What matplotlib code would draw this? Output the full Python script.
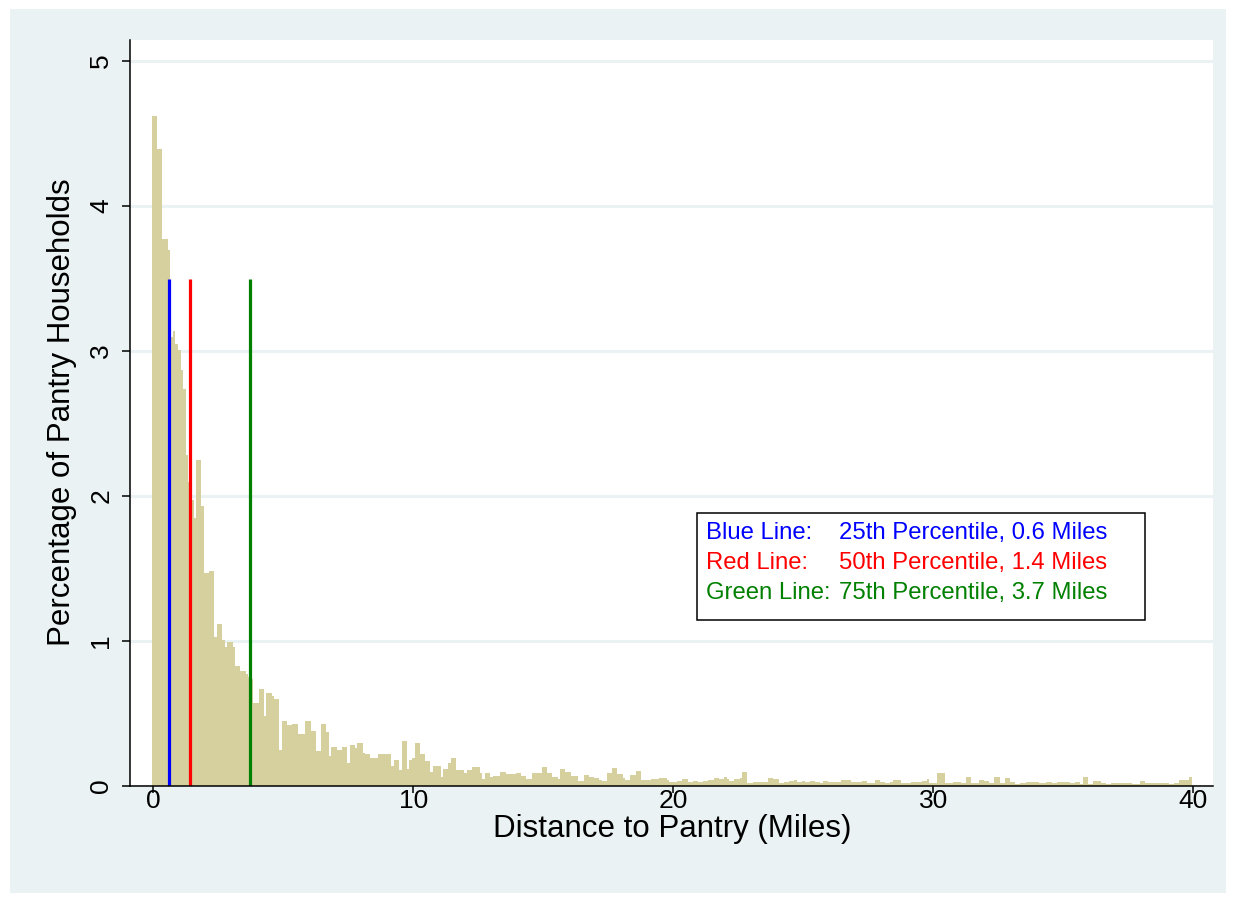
import numpy as np
import matplotlib.pyplot as plt
from matplotlib.patches import Rectangle

plt.rcParams['font.family'] = ['Liberation Sans', 'DejaVu Sans']

# bar centres, one every 0.1 mile
distance = np.round(np.arange(400) * 0.1, 1)

# percentage of households in each 0.1 mile bin
pct = np.array([
    4.62, 4.62, 4.39, 4.39, 3.77, 3.77, 3.70, 3.10, 3.14, 3.05,
    3.01, 2.87, 2.74, 2.28, 2.10, 1.97, 1.85, 2.25, 2.25, 1.93,
    1.47, 1.47, 1.48, 1.48, 1.03, 1.12, 1.12, 1.01, 0.96, 0.99,
    0.99, 0.96, 0.83, 0.83, 0.79, 0.79, 0.77, 0.75, 0.74, 0.57,
    0.57, 0.67, 0.67, 0.48, 0.64, 0.64, 0.62, 0.60, 0.60, 0.25,
    0.45, 0.45, 0.42, 0.42, 0.43, 0.43, 0.36, 0.36, 0.36, 0.45,
    0.45, 0.38, 0.38, 0.24, 0.24, 0.43, 0.43, 0.37, 0.21, 0.27,
    0.27, 0.25, 0.25, 0.27, 0.27, 0.16, 0.28, 0.28, 0.26, 0.30,
    0.30, 0.23, 0.22, 0.22, 0.19, 0.19, 0.19, 0.22, 0.22, 0.22,
    0.22, 0.22, 0.14, 0.18, 0.18, 0.11, 0.31, 0.31, 0.12, 0.18,
    0.19, 0.30, 0.30, 0.22, 0.22, 0.17, 0.17, 0.10, 0.14, 0.14,
    0.14, 0.06, 0.12, 0.12, 0.16, 0.19, 0.19, 0.11, 0.11, 0.11,
    0.09, 0.11, 0.11, 0.13, 0.13, 0.13, 0.09, 0.05, 0.09, 0.09,
    0.06, 0.07, 0.07, 0.07, 0.10, 0.10, 0.08, 0.08, 0.08, 0.08,
    0.09, 0.09, 0.07, 0.07, 0.05, 0.05, 0.09, 0.09, 0.09, 0.09,
    0.13, 0.13, 0.09, 0.09, 0.06, 0.06, 0.05, 0.12, 0.12, 0.10,
    0.10, 0.07, 0.07, 0.07, 0.035, 0.035, 0.076, 0.076, 0.06, 0.06,
    0.053, 0.053, 0.041, 0.034, 0.034, 0.087, 0.087, 0.122, 0.122, 0.083,
    0.083, 0.053, 0.041, 0.041, 0.076, 0.076, 0.103, 0.103, 0.041, 0.041,
    0.041, 0.041, 0.046, 0.046, 0.046, 0.057, 0.057, 0.057, 0.039, 0.030,
    0.030, 0.030, 0.034, 0.034, 0.046, 0.046, 0.030, 0.030, 0.034, 0.034,
    0.025, 0.025, 0.037, 0.037, 0.041, 0.041, 0.053, 0.053, 0.048, 0.048,
    0.060, 0.048, 0.034, 0.034, 0.046, 0.046, 0.053, 0.094, 0.094, 0.018,
    0.018, 0.030, 0.030, 0.025, 0.025, 0.030, 0.030, 0.053, 0.053, 0.046,
    0.046, 0.023, 0.023, 0.025, 0.025, 0.037, 0.037, 0.041, 0.025, 0.025,
    0.034, 0.030, 0.030, 0.034, 0.034, 0.025, 0.025, 0.018, 0.034, 0.034,
    0.025, 0.025, 0.025, 0.030, 0.030, 0.044, 0.044, 0.041, 0.041, 0.025,
    0.025, 0.030, 0.030, 0.034, 0.034, 0.023, 0.023, 0.018, 0.039, 0.039,
    0.025, 0.025, 0.018, 0.018, 0.030, 0.041, 0.041, 0.041, 0.023, 0.023,
    0.018, 0.018, 0.030, 0.030, 0.030, 0.030, 0.034, 0.034, 0.046, 0.018,
    0.018, 0.018, 0.092, 0.092, 0.092, 0.021, 0.021, 0.021, 0.030, 0.030,
    0.030, 0.023, 0.023, 0.060, 0.060, 0.023, 0.023, 0.023, 0.041, 0.041,
    0.034, 0.034, 0.018, 0.018, 0.064, 0.064, 0.018, 0.018, 0.057, 0.057,
    0.025, 0.025, 0.014, 0.014, 0.018, 0.018, 0.025, 0.025, 0.025, 0.025,
    0.025, 0.018, 0.018, 0.018, 0.025, 0.025, 0.018, 0.018, 0.025, 0.025,
    0.025, 0.025, 0.025, 0.018, 0.018, 0.025, 0.025, 0.014, 0.060, 0.060,
    0.014, 0.014, 0.034, 0.034, 0.034, 0.018, 0.018, 0.014, 0.014, 0.018,
    0.018, 0.023, 0.023, 0.023, 0.023, 0.023, 0.023, 0.014, 0.014, 0.014,
    0.034, 0.034, 0.018, 0.018, 0.023, 0.023, 0.023, 0.018, 0.018, 0.018,
    0.018, 0.014, 0.014, 0.018, 0.018, 0.041, 0.041, 0.041, 0.041, 0.060,
])

# percentile marker lines
pctl_names = ['Blue Line:', 'Red Line:', 'Green Line:']
pctl_text = ['25th Percentile, 0.6 Miles', '50th Percentile, 1.4 Miles',
             '75th Percentile, 3.7 Miles']
pctl_miles = [0.6, 1.4, 3.7]
pctl_colors = ['#0000FF', '#FF0000', '#008000']
line_top = 3.5

x_ticks = [0, 10, 20, 30, 40]
y_ticks = [0, 1, 2, 3, 4, 5]

W, H = 1236, 902
fig = plt.figure(figsize=(W / 100, H / 100), dpi=100)
fig.patch.set_facecolor('white')

# stata-like outer graph region, behind everything
bg = Rectangle((10 / W, 9 / H), 1216 / W, 884 / H, transform=fig.transFigure,
               facecolor='#EAF2F3', edgecolor='none', zorder=-10)
fig.patches.append(bg)

ax = fig.add_axes([130 / W, 1 - 786 / H, 1083 / W, 746 / H])
ax.set_facecolor('white')

ax.bar(distance, pct, width=0.1, align='center', color='#D6D09E',
       edgecolor='none', zorder=2)

for m, c in zip(pctl_miles, pctl_colors):
    ax.plot([m, m], [0, line_top], color=c, lw=2.3, zorder=3,
            solid_capstyle='butt')

ax.set_xlim(-0.9, 40.76)
ax.set_ylim(0, 5.145)
ax.set_xticks(x_ticks)
ax.set_yticks(y_ticks)
ax.grid(axis='y', color='#EAF2F3', lw=2.2, zorder=1)
ax.set_axisbelow(True)

for s in ['top', 'right']:
    ax.spines[s].set_visible(False)
for s in ['left', 'bottom']:
    ax.spines[s].set_linewidth(1.1)
    ax.spines[s].set_zorder(4)

ax.tick_params(direction='out', length=6, width=1.1, labelsize=19,
               colors='black')
ax.tick_params(axis='x', length=5, pad=-3)
ax.tick_params(axis='y', pad=6)
for lbl in ax.get_yticklabels():
    lbl.set_rotation(90)
    lbl.set_va('center')

fig.text(672 / W, 1 - 829 / H, 'Distance to Pantry (Miles)', fontsize=22.5,
         ha='center', va='center')
fig.text(62 / W, 1 - 412 / H, 'Percentage of Pantry Households',
         fontsize=22.5, ha='center', va='center', rotation=90)

# text box with percentile notes
box = Rectangle((697 / W, 1 - 620 / H), 448 / W, 107 / H,
                transform=fig.transFigure, facecolor='white',
                edgecolor='black', lw=1.1, zorder=5)
fig.patches.append(box)
for i, (nm, tx, c) in enumerate(zip(pctl_names, pctl_text, pctl_colors)):
    yy = 1 - (533 + 30 * i) / H
    fig.text(706 / W, yy, nm, color=c, fontsize=17.2, va='center', zorder=6)
    fig.text(839 / W, yy, tx, color=c, fontsize=17.2, va='center', zorder=6)

fig.savefig('out.png', dpi=100)
